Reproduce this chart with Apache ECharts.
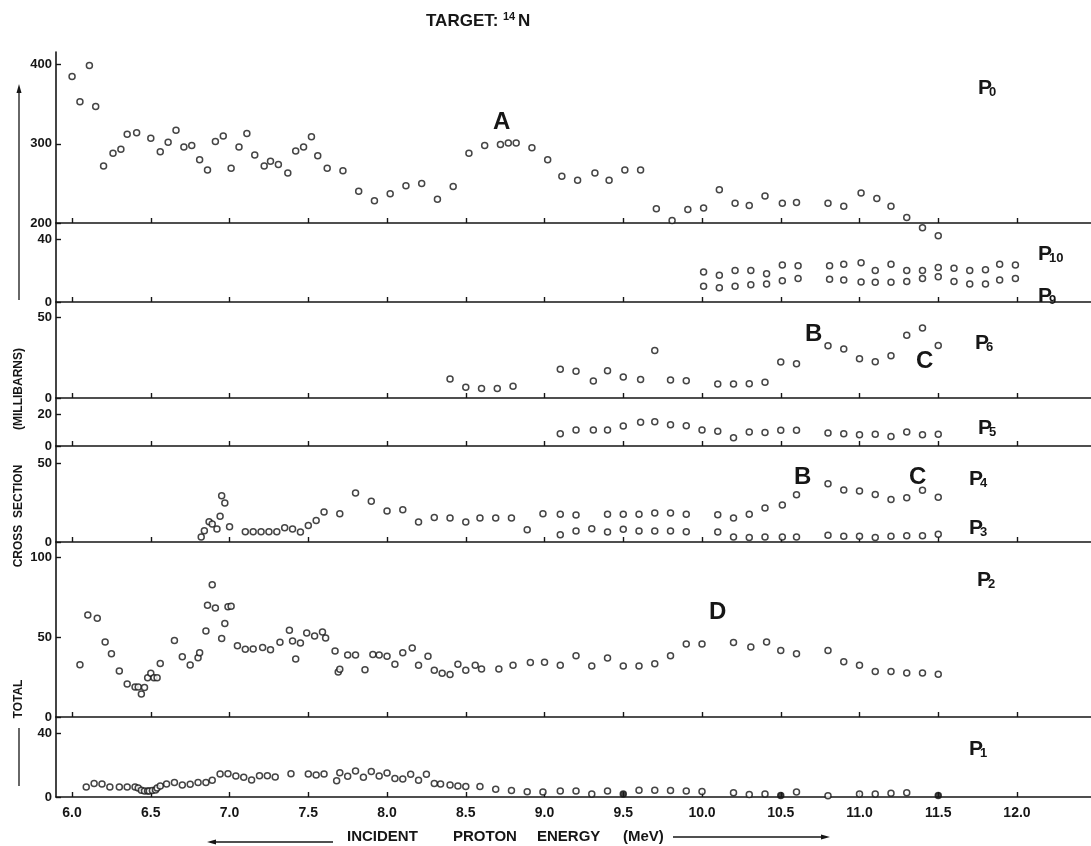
<!DOCTYPE html>
<html><head><meta charset="utf-8">
<script src="https://cdn.jsdelivr.net/npm/echarts@6/dist/echarts.min.js"></script>
<style>html,body{margin:0;padding:0;background:#fff}#c{width:1091px;height:846px}</style>
</head><body><div id="c"></div>
<script>
// ---------- data (energy MeV, cross section mb) ----------
const xTicks = [6.0,6.5,7.0,7.5,8.0,8.5,9.0,9.5,10.0,10.5,11.0,11.5,12.0];
const xTickLabels = ['6.0','6.5','7.0','7.5','8.0','8.5','9.0','9.5','10.0','10.5','11.0','11.5','12.0'];

const P0 = [[6.00,385],[6.05,353],[6.11,399],[6.15,347],[6.20,272],[6.26,288],[6.31,293],[6.35,312],[6.41,314],[6.50,307],[6.56,290],[6.61,302],[6.66,317],[6.71,296],[6.76,298],[6.81,280],[6.86,267],[6.91,303],[6.96,310],[7.01,269],[7.06,296],[7.11,313],[7.16,286],[7.22,272],[7.26,278],[7.31,274],[7.37,263],[7.42,291],[7.47,296],[7.52,309],[7.56,285],[7.62,269],[7.72,266],[7.82,240],[7.92,228],[8.02,237],[8.12,247],[8.22,250],[8.32,230],[8.42,246],[8.52,288],[8.62,298],[8.72,299],[8.77,301],[8.82,301],[8.92,295],[9.02,280],[9.11,259],[9.21,254],[9.32,263],[9.41,254],[9.51,267],[9.61,267],[9.71,218],[9.81,203],[9.91,217],[10.01,219],[10.11,242],[10.21,225],[10.30,222],[10.40,234],[10.51,225],[10.60,226],[10.80,225],[10.90,221],[11.01,238],[11.11,231],[11.20,221],[11.30,207],[11.40,194],[11.50,184]];
const P10 = [[10.01,19],[10.11,17],[10.21,20],[10.31,20],[10.41,18],[10.51,23.5],[10.61,23],[10.81,23],[10.90,24],[11.01,25],[11.10,20],[11.20,24],[11.30,20],[11.40,20],[11.50,22],[11.60,21.5],[11.70,20],[11.80,20.5],[11.89,24],[11.99,23.5]];
const P9 = [[10.01,10],[10.11,9],[10.21,10],[10.31,11],[10.41,11.5],[10.51,13.5],[10.61,15],[10.81,14.5],[10.90,14],[11.01,12.7],[11.10,12.5],[11.20,12.5],[11.30,13],[11.40,15],[11.50,16],[11.60,13],[11.70,11.5],[11.80,11.5],[11.89,14],[11.99,15]];
const P6 = [[8.40,11.7],[8.50,6.6],[8.60,5.8],[8.70,5.8],[8.80,7.2],[9.10,17.7],[9.20,16.5],[9.31,10.5],[9.40,16.9],[9.50,13],[9.61,11.5],[9.70,29.4],[9.80,11.1],[9.90,10.7],[10.10,8.6],[10.20,8.6],[10.30,8.8],[10.40,9.7],[10.50,22.2],[10.60,21.2],[10.80,32.3],[10.90,30.2],[11.00,24.3],[11.10,22.4],[11.20,26.1],[11.30,38.7],[11.40,43.2],[11.50,32.5]];
const P5 = [[9.10,7.7],[9.20,10],[9.31,10],[9.40,10],[9.50,12.5],[9.61,14.8],[9.70,15.2],[9.80,13.3],[9.90,12.7],[10.00,10],[10.10,9.2],[10.20,5.2],[10.30,8.8],[10.40,8.5],[10.50,9.8],[10.60,9.8],[10.80,8.1],[10.90,7.7],[11.00,7.1],[11.10,7.3],[11.20,6],[11.30,8.8],[11.40,7.1],[11.50,7.3]];
const P4 = [[6.82,3.2],[6.84,7.2],[6.87,13],[6.89,11.5],[6.92,8.3],[6.94,16.4],[6.95,29.6],[6.97,24.9],[7.00,9.8],[7.10,6.6],[7.15,6.6],[7.20,6.6],[7.25,6.6],[7.30,6.6],[7.35,9.1],[7.40,8.3],[7.45,6.4],[7.50,10.6],[7.55,13.8],[7.60,19.1],[7.70,18.1],[7.80,31.3],[7.90,26],[8.00,19.8],[8.10,20.6],[8.20,12.8],[8.30,15.7],[8.40,15.3],[8.50,12.8],[8.59,15.3],[8.69,15.3],[8.79,15.3],[8.89,7.9],[8.99,18.1],[9.10,17.7],[9.20,17.2],[9.40,17.7],[9.50,17.7],[9.60,17.7],[9.70,18.5],[9.80,18.5],[9.90,17.7],[10.10,17.4],[10.20,15.3],[10.30,17.7],[10.40,21.7],[10.51,23.6],[10.60,30.2],[10.80,37.2],[10.90,33.2],[11.00,32.6],[11.10,30.4],[11.20,27.2],[11.30,28.3],[11.40,33],[11.50,28.5]];
const P3 = [[9.10,4.7],[9.20,7],[9.30,8.5],[9.40,6.4],[9.50,8.1],[9.60,7],[9.70,7],[9.80,7],[9.90,6.6],[10.10,6.4],[10.20,3.2],[10.30,2.8],[10.40,3.2],[10.51,3.2],[10.60,3.2],[10.80,4.3],[10.90,3.6],[11.00,3.6],[11.10,2.8],[11.20,3.6],[11.30,4],[11.40,4],[11.50,4.9]];
const P2 = [[6.05,32.7],[6.10,63.8],[6.16,61.7],[6.21,46.9],[6.25,39.6],[6.30,28.8],[6.35,20.6],[6.40,18.8],[6.42,18.8],[6.44,14.4],[6.46,18.5],[6.48,24.6],[6.50,27.3],[6.52,24.6],[6.54,24.6],[6.56,33.5],[6.65,47.9],[6.70,37.7],[6.75,32.5],[6.80,37.1],[6.81,40.2],[6.85,53.8],[6.86,69.8],[6.89,82.7],[6.91,68.1],[6.95,49],[6.97,58.5],[6.99,69],[7.01,69.2],[7.05,44.6],[7.10,42.3],[7.15,42.5],[7.21,43.5],[7.26,42.1],[7.32,46.7],[7.38,54.2],[7.40,47.5],[7.42,36.3],[7.45,46.3],[7.49,52.5],[7.54,50.6],[7.59,53.1],[7.61,49.4],[7.67,41.3],[7.69,28.1],[7.70,29.8],[7.75,38.8],[7.80,38.8],[7.86,29.6],[7.91,39],[7.95,38.8],[8.00,37.9],[8.05,32.9],[8.10,40.2],[8.16,43.1],[8.20,32.3],[8.26,37.9],[8.30,29.2],[8.35,27.3],[8.40,26.5],[8.45,32.9],[8.50,29.2],[8.56,32.3],[8.60,30],[8.71,30],[8.80,32.3],[8.91,34],[9.00,34.2],[9.10,32.3],[9.20,38.3],[9.30,31.9],[9.40,36.9],[9.50,31.9],[9.60,31.9],[9.70,33.3],[9.80,38.3],[9.90,45.6],[10.00,45.6],[10.20,46.5],[10.31,43.8],[10.41,46.9],[10.50,41.5],[10.60,39.6],[10.80,41.5],[10.90,34.6],[11.00,32.3],[11.10,28.5],[11.20,28.5],[11.30,27.5],[11.40,27.5],[11.50,26.7]];
const P1 = [[6.09,6.3],[6.14,8.5],[6.19,8.1],[6.24,6.3],[6.30,6.3],[6.35,6.3],[6.40,6.3],[6.42,5.6],[6.44,4.2],[6.46,3.8],[6.48,3.8],[6.49,3.8],[6.51,4],[6.53,4.4],[6.54,5.6],[6.56,6.9],[6.60,8.1],[6.65,9],[6.70,7.5],[6.75,7.9],[6.80,9],[6.85,9],[6.89,10.4],[6.94,14.4],[6.99,14.6],[7.04,13.1],[7.09,12.3],[7.14,10.6],[7.19,13.3],[7.24,13.3],[7.29,12.5],[7.39,14.6],[7.50,14.4],[7.55,13.8],[7.60,14.4],[7.68,10.2],[7.70,15.2],[7.75,12.9],[7.80,16.3],[7.85,12.3],[7.90,16],[7.95,13.1],[8.00,15],[8.05,11.5],[8.10,11.3],[8.15,14.2],[8.20,10.4],[8.25,14.2],[8.30,8.5],[8.34,8.1],[8.40,7.5],[8.45,6.9],[8.50,6.5],[8.59,6.5],[8.69,4.8],[8.79,4],[8.89,3.3],[8.99,3.1],[9.10,3.8],[9.20,3.8],[9.30,1.9],[9.40,3.8],[9.50,1.9],[9.60,4.2],[9.70,4.2],[9.80,4],[9.90,3.8],[10.00,3.5],[10.20,2.7],[10.30,1.5],[10.40,1.9],[10.50,1],[10.60,3.1],[10.80,0.8],[11.00,1.9],[11.10,1.9],[11.20,2.3],[11.30,2.7],[11.50,1]];
const P1filled = [9.50,10.50,11.50];

// ---------- layout ----------
const FONT = '"Liberation Sans", Arial, sans-serif';
const INK = '#161616';
const XMIN = 5.898, XMAX = 12.47;
const panels = [
  {top:52,  bottom:223, min:200, max:415.9, ticks:[200,300,400], series:[P0]},
  {top:223, bottom:302, min:0, max:50.2, ticks:[0,40], series:[P10,P9]},
  {top:302, bottom:398, min:0, max:59.3, ticks:[0,50], series:[P6]},
  {top:398, bottom:446, min:0, max:30, ticks:[0,20], series:[P5]},
  {top:446, bottom:542, min:0, max:61.3, ticks:[0,50], series:[P4,P3]},
  {top:542, bottom:717, min:0, max:109.4, ticks:[0,50,100], series:[P2]},
  {top:717, bottom:797, min:0, max:50, ticks:[0,40], series:[P1]}
];

const grid=[], xAxis=[], yAxis=[], series=[];
panels.forEach((p,i)=>{
  grid.push({left:56, width:1035, top:p.top, height:p.bottom-p.top, outerBoundsMode:'none', containLabel:false});
  xAxis.push({type:'value', gridIndex:i, min:XMIN, max:XMAX,
    axisLine:{onZero:false, lineStyle:{color:INK, width:1.6}},
    axisTick:{inside:true, length:5, customValues:xTicks, lineStyle:{color:INK, width:1.4}},
    axisLabel:{show:i===panels.length-1, customValues:xTicks, margin:9, color:INK, fontSize:14, fontWeight:'bold', fontFamily:FONT,
      formatter:v=>{const k=xTicks.findIndex(t=>Math.abs(t-v)<1e-6);return k>=0?xTickLabels[k]:'';}},
    splitLine:{show:false}});
  yAxis.push({type:'value', gridIndex:i, min:p.min, max:p.max,
    axisLine:{show:true, onZero:false, lineStyle:{color:INK, width:1.6}},
    axisTick:{show:true, inside:true, length:5, customValues:p.ticks, lineStyle:{color:INK, width:1.4}},
    axisLabel:{customValues:p.ticks, margin:4, color:INK, fontSize:13, fontWeight:'bold', fontFamily:FONT},
    splitLine:{show:false}});
  p.series.forEach(d=>{
    series.push({type:'scatter', xAxisIndex:i, yAxisIndex:i, clip:false, symbol:'circle', symbolSize:6,
      itemStyle:{color:'#fff', borderColor:INK, borderWidth:1.5}, silent:true, z:3,
      data:d.map(pt=>{
        if(d===P1 && P1filled.some(e=>Math.abs(e-pt[0])<1e-6)) return {value:pt, itemStyle:{color:INK}};
        return pt;})});
  });
});

function txt(x,y,s,size,extra){return Object.assign({type:'text', x:x, y:y, silent:true,
  style:{text:s, fill:INK, font:'bold '+size+'px '+FONT, textVerticalAlign:'top'}}, extra||{});}
function plab(x,y,sub){return [txt(x,y,'P',21), txt(x+11,y+8,sub,13)];}

const graphic = [
  txt(426,13,'TARGET:',17), txt(503,11,'14',11), txt(518,13,'N',17),
  ...plab(978,78,'0'), ...plab(1038,244,'10'), ...plab(1038,286,'9'),
  ...plab(975,333,'6'), ...plab(978,418,'5'), ...plab(969,469,'4'),
  ...plab(969,518,'3'), ...plab(977,570,'2'), ...plab(969,739,'1'),
  txt(493,110,'A',24), txt(805,322,'B',24), txt(916,349,'C',24),
  txt(794,465,'B',24), txt(909,465,'C',24), txt(709,600,'D',24),
  txt(347,829,'INCIDENT',15), txt(453,829,'PROTON',15), txt(537,829,'ENERGY',15), txt(623,829,'(MeV)',15),
  {type:'line', silent:true, shape:{x1:212,y1:842,x2:333,y2:842}, style:{stroke:INK, lineWidth:1.3}},
  {type:'polygon', silent:true, shape:{points:[[207,842],[216,839.5],[216,844.5]]}, style:{fill:INK}},
  {type:'line', silent:true, shape:{x1:673,y1:837,x2:824,y2:837}, style:{stroke:INK, lineWidth:1.3}},
  {type:'polygon', silent:true, shape:{points:[[830,837],[821,834.5],[821,839.5]]}, style:{fill:INK}},
  {type:'text', x:19, y:699, rotation:Math.PI/2, silent:true, style:{text:'TOTAL', fill:INK, font:'bold 12px '+FONT, align:'center', verticalAlign:'middle'}},
  {type:'text', x:19, y:516, rotation:Math.PI/2, silent:true, style:{text:'CROSS  SECTION', fill:INK, font:'bold 12px '+FONT, align:'center', verticalAlign:'middle'}},
  {type:'text', x:19, y:389, rotation:Math.PI/2, silent:true, style:{text:'(MILLIBARNS)', fill:INK, font:'bold 12px '+FONT, align:'center', verticalAlign:'middle'}},
  {type:'line', silent:true, shape:{x1:19,y1:300,x2:19,y2:90}, style:{stroke:INK, lineWidth:1.3}},
  {type:'polygon', silent:true, shape:{points:[[19,84],[16.5,93],[21.5,93]]}, style:{fill:INK}},
  {type:'line', silent:true, shape:{x1:19,y1:728,x2:19,y2:786}, style:{stroke:INK, lineWidth:1.3}}
];

const chart = echarts.init(document.getElementById('c'), null, {renderer:'canvas'});
chart.setOption({animation:false, backgroundColor:'#fff', grid, xAxis, yAxis, series, graphic});
</script></body></html>
